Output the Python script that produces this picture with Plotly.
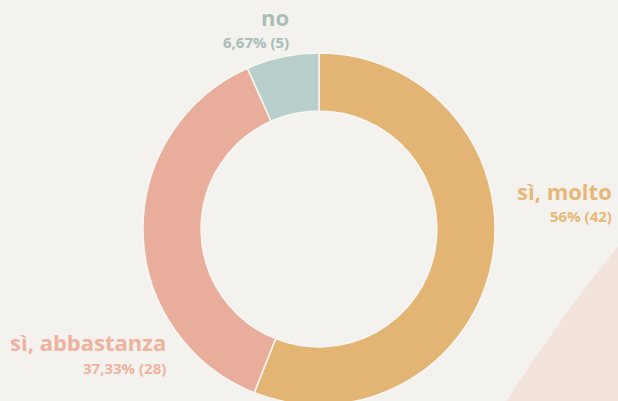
import plotly.graph_objects as go

labels = ["sì, molto", "sì, abbastanza", "no"]
counts = [42, 28, 5]
percent_labels = ["56%", "37,33%", "6,67%"]
slice_colors = ["#e2b574", "#e9ae9b", "#b9cfcb"]
label_colors = ["#e6b877", "#eeb39f", "#a9bdb8"]

W, H = 618, 405  # slightly taller than the window: donut bottom is cropped as in the reference
BG = "#f4f2ee"

fig = go.Figure()
fig.add_trace(go.Pie(
    labels=labels,
    values=counts,
    sort=False,
    direction="clockwise",
    rotation=0,
    hole=0.67,
    marker=dict(colors=slice_colors, line=dict(color="#f8f6f2", width=1.5)),
    textinfo="none",
    hoverinfo="skip",
    showlegend=False,
    domain=dict(x=[143 / W, 495 / W], y=[0, 352 / H]),
))

# label anchor positions (pixel right edge, title center y, percent center y)
label_pos = [(614, 191, 216), (168, 342, 368), (291, 17, 42)]

annotations = []
for lab, cnt, pct, col, (xr, ty, py) in zip(labels, counts, percent_labels, label_colors, label_pos):
    annotations.append(dict(
        x=xr / W, y=1 - ty / H, xref="paper", yref="paper",
        xanchor="right", yanchor="middle", showarrow=False,
        text=f"<b>{lab}</b>",
        font=dict(family="Open Sans", size=22, color=col),
    ))
    annotations.append(dict(
        x=xr / W, y=1 - py / H, xref="paper", yref="paper",
        xanchor="right", yanchor="middle", showarrow=False,
        text=f"<b>{pct} ({cnt})</b>",
        font=dict(family="Open Sans", size=15, color=col),
    ))

# decorative pale circle in the bottom-right corner
cx, cy, R = 1891, 1282, 1641
shapes = [dict(
    type="circle", xref="paper", yref="paper", layer="below",
    x0=(cx - R) / W, x1=(cx + R) / W,
    y0=1 - (cy + R) / H, y1=1 - (cy - R) / H,
    fillcolor="#f2e3dc", line=dict(width=0),
)]

fig.update_layout(
    width=W, height=H,
    margin=dict(l=0, r=0, t=0, b=0),
    paper_bgcolor=BG, plot_bgcolor=BG,
    annotations=annotations,
    shapes=shapes,
)

fig.write_html(
    "out.html",
    config={"displayModeBar": False},
    post_script="document.body.style.margin='0';document.body.style.overflow='hidden';",
)
